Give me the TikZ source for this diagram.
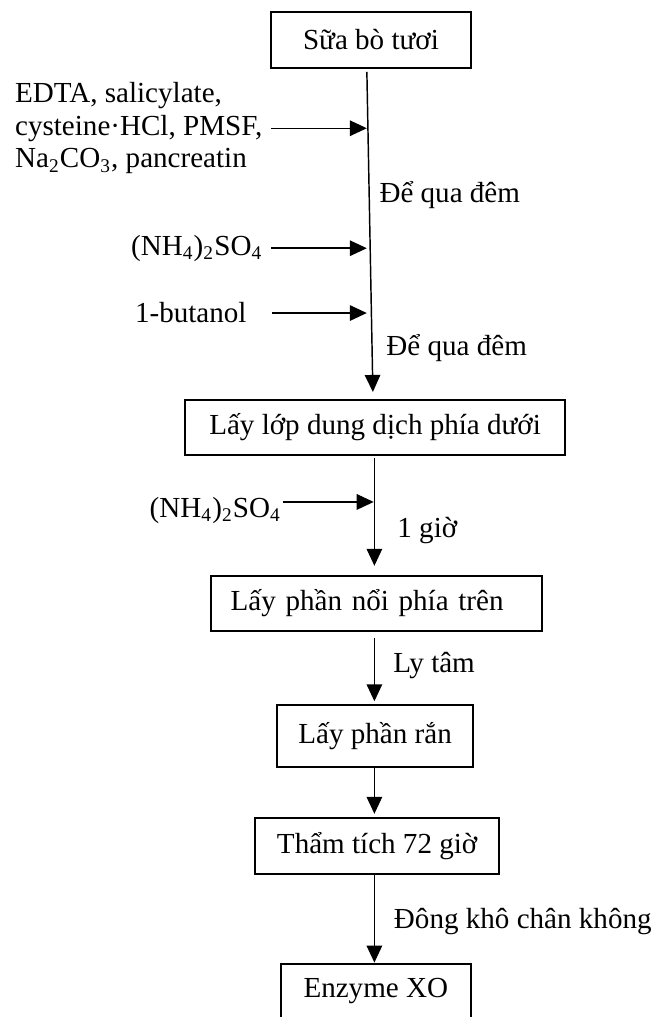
\documentclass[tikz,border=0pt]{standalone}
\usepackage{fontspec}
\setmainfont{Liberation Serif}
\usepackage{tikz}
\usetikzlibrary{arrows.meta}

\begin{document}
\begin{tikzpicture}[
    font=\fontsize{12pt}{13.4pt}\selectfont,
    procbox/.style={draw, line width=0.8pt, minimum height=0.8cm, inner sep=0pt},
    flow/.style={line width=0.6pt, -{Triangle[length=7pt, width=6.4pt]}}
]
    \useasboundingbox (0,0) rectangle (9.51,-14.75);

    % Process boxes
    \node[procbox, minimum width=2.90cm, minimum height=0.81cm] (milk) at (5.38,-0.58) {Sữa bò tươi};
    \node[procbox, minimum width=5.51cm] (lower) at (5.44,-6.20) {Lấy lớp dung dịch phía dưới};
    \node[procbox, text width=4.23cm, inner xsep=0.29cm, align=left] (upper) at (5.46,-8.75) {Lấy phần nổi phía trên};
    \node[procbox, minimum width=2.84cm, minimum height=0.90cm] (solid) at (5.44,-10.67) {Lấy phần rắn};
    \node[procbox, minimum width=3.54cm] (dialysis) at (5.47,-12.27) {Thẩm tích 72 giờ};
    \node[procbox, minimum width=2.76cm, minimum height=0.81cm] (enzyme) at (5.45,-14.38) {Enzyme XO};

    % Main column
    \coordinate (axis) at (5.43,0);
    \draw[flow, shorten <=1.2pt, shorten >=2.9pt] ([xshift=-0.06cm]milk.south) -- ([xshift=-0.03cm]lower.north);
    \draw[flow, shorten <=0.7pt, shorten >=3.7pt] (lower.south -| axis) -- (upper.north -| axis);
    \draw[flow, shorten <=2.4pt, shorten >=1pt] (upper.south -| axis) -- (solid.north -| axis);
    \draw[flow, shorten >=1.5pt] (solid.south -| axis) -- (dialysis.north -| axis);
    \draw[flow] (dialysis.south -| axis) -- (enzyme.north -| axis);

    % Added reagents
    \coordinate (j1) at (5.32,-1.86);
    \coordinate (j2) at (5.32,-3.60);
    \coordinate (j3) at (5.32,-4.54);
    \coordinate (j4) at (5.42,-7.28);

    \node[anchor=east, align=left] (edta) at (3.93,-1.86) {EDTA, salicylate,\\cysteine·HCl, PMSF,\\Na\textsubscript{2}CO\textsubscript{3}, pancreatin};
    \draw[flow] (edta.east) -- (j1);

    \node[anchor=east] (nh1) at (3.93,-3.60) {(NH\textsubscript{4})\textsubscript{2}SO\textsubscript{4}};
    \draw[flow] (nh1.east) -- (j2);

    \node[anchor=east] (butanol) at (3.70,-4.54) {1-butanol};
    \draw[flow, shorten <=0.25cm] (butanol.east) -- (j3);

    \node[anchor=east, inner xsep=0.5pt] (nh2) at (4.10,-7.40) {(NH\textsubscript{4})\textsubscript{2}SO\textsubscript{4}};
    \draw[flow] (nh2.east |- j4) -- (j4);

    % Step conditions
    \node[anchor=base west] (night1) at (5.38,-2.93) {Để qua đêm};
    \node[anchor=base west] (night2) at (5.48,-5.15) {Để qua đêm};
    \node[anchor=base west] (hour) at (5.64,-7.80) {1 giờ};
    \node[anchor=base west] (spin) at (5.58,-9.76) {Ly tâm};
    \node[anchor=base west] (dry) at (5.59,-13.46) {Đông khô chân không};
\end{tikzpicture}
\end{document}
